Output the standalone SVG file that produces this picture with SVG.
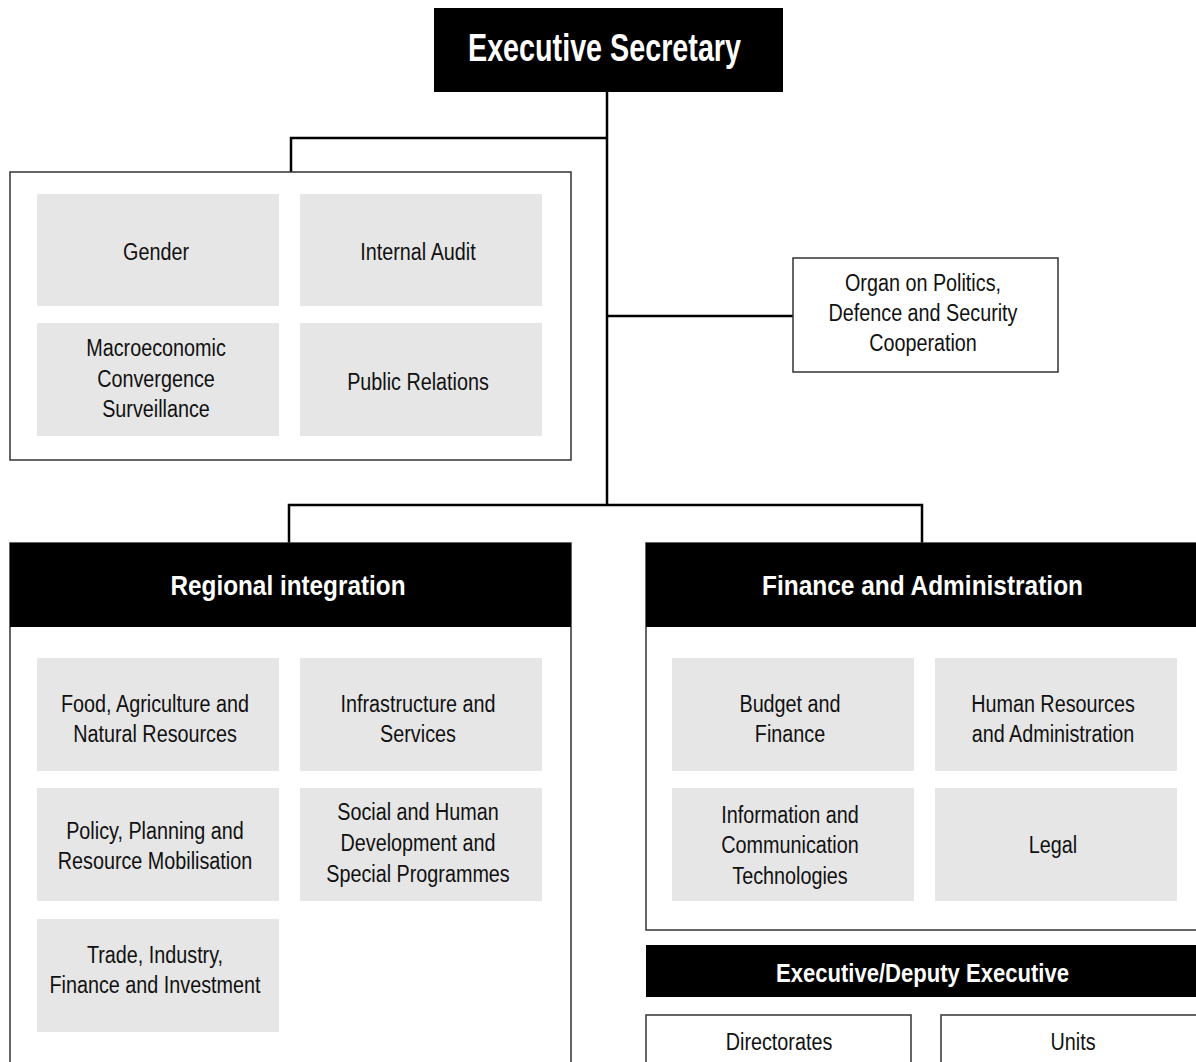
<svg xmlns="http://www.w3.org/2000/svg" width="1196" height="1062" viewBox="0 0 1196 1062">
<style>
.t{font-family:"Liberation Sans",Arial,sans-serif;font-size:23px;fill:#111;text-anchor:middle;}
.h{font-family:"Liberation Sans",Arial,sans-serif;font-weight:bold;fill:#fff;text-anchor:middle;}
.g{fill:#e6e6e6;}
.box{fill:#fff;stroke:#333;stroke-width:1.5;}
.blk{fill:#000;}
.c{fill:none;stroke:#000;stroke-width:2.5;}
</style>
<rect width="1196" height="1062" fill="#fff"/>
<g id="connectors">
<path class="c" d="M607,92 V505"/>
<path class="c" d="M607,138 H291 V172"/>
<path class="c" d="M607,316 H793"/>
<path class="c" d="M289,543 V505 H922 V543"/>
</g>
<g id="executive-secretary">
<rect class="blk" x="434" y="8" width="349" height="84"/>
<text class="h" x="604.5" y="61" font-size="38" textLength="273" lengthAdjust="spacingAndGlyphs">Executive Secretary</text>
</g>
<g id="secretariat-units">
<rect class="box" x="10" y="172" width="561" height="288"/>
<g id="gender"><rect class="g" x="37" y="194" width="242" height="112"/><g transform="translate(156 0) scale(0.86 1)"><text class="t" x="0" y="260">Gender</text></g></g>
<g id="internal-audit"><rect class="g" x="300" y="194" width="242" height="112"/><g transform="translate(418 0) scale(0.86 1)"><text class="t" x="0" y="260">Internal Audit</text></g></g>
<g id="macro"><rect class="g" x="37" y="323" width="242" height="113"/><g transform="translate(156 0) scale(0.86 1)"><text class="t" x="0" y="356">Macroeconomic</text><text class="t" x="0" y="387">Convergence</text><text class="t" x="0" y="417">Surveillance</text></g></g>
<g id="public-relations"><rect class="g" x="300" y="323" width="242" height="113"/><g transform="translate(418 0) scale(0.86 1)"><text class="t" x="0" y="390">Public Relations</text></g></g>
</g>
<g id="organ">
<rect class="box" x="793" y="258" width="265" height="114"/>
<g transform="translate(923 0) scale(0.86 1)">
<text class="t" x="0" y="291">Organ on Politics,</text>
<text class="t" x="0" y="321">Defence and Security</text>
<text class="t" x="0" y="351">Cooperation</text>
</g>
</g>
<g id="regional-integration">
<rect class="box" x="10" y="543" width="561" height="540"/>
<rect class="blk" x="10" y="543" width="561" height="84"/>
<text class="h" x="288" y="595" font-size="28" textLength="235" lengthAdjust="spacingAndGlyphs">Regional integration</text>
<g id="food"><rect class="g" x="37" y="658" width="242" height="113"/><g transform="translate(155 0) scale(0.86 1)"><text class="t" x="0" y="712">Food, Agriculture and</text><text class="t" x="0" y="742">Natural Resources</text></g></g>
<g id="infrastructure"><rect class="g" x="300" y="658" width="242" height="113"/><g transform="translate(418 0) scale(0.86 1)"><text class="t" x="0" y="712">Infrastructure and</text><text class="t" x="0" y="742">Services</text></g></g>
<g id="policy"><rect class="g" x="37" y="788" width="242" height="113"/><g transform="translate(155 0) scale(0.86 1)"><text class="t" x="0" y="839">Policy, Planning and</text><text class="t" x="0" y="869">Resource Mobilisation</text></g></g>
<g id="social"><rect class="g" x="300" y="788" width="242" height="113"/><g transform="translate(418 0) scale(0.86 1)"><text class="t" x="0" y="820">Social and Human</text><text class="t" x="0" y="851">Development and</text><text class="t" x="0" y="882">Special Programmes</text></g></g>
<g id="trade"><rect class="g" x="37" y="919" width="242" height="113"/><g transform="translate(155 0) scale(0.86 1)"><text class="t" x="0" y="963">Trade, Industry,</text><text class="t" x="0" y="993">Finance and Investment</text></g></g>
</g>
<g id="finance-administration">
<rect class="box" x="646" y="543" width="600" height="387"/>
<rect class="blk" x="646" y="543" width="600" height="84"/>
<text class="h" x="922.5" y="595" font-size="28" textLength="321" lengthAdjust="spacingAndGlyphs">Finance and Administration</text>
<g id="budget"><rect class="g" x="672" y="658" width="242" height="113"/><g transform="translate(790 0) scale(0.86 1)"><text class="t" x="0" y="712">Budget and</text><text class="t" x="0" y="742">Finance</text></g></g>
<g id="hr"><rect class="g" x="935" y="658" width="242" height="113"/><g transform="translate(1053 0) scale(0.86 1)"><text class="t" x="0" y="712">Human Resources</text><text class="t" x="0" y="742">and Administration</text></g></g>
<g id="ict"><rect class="g" x="672" y="788" width="242" height="113"/><g transform="translate(790 0) scale(0.86 1)"><text class="t" x="0" y="823">Information and</text><text class="t" x="0" y="853">Communication</text><text class="t" x="0" y="884">Technologies</text></g></g>
<g id="legal"><rect class="g" x="935" y="788" width="242" height="113"/><g transform="translate(1053 0) scale(0.86 1)"><text class="t" x="0" y="853">Legal</text></g></g>
</g>
<g id="legend-executive">
<rect class="blk" x="646" y="945" width="600" height="52"/>
<text class="h" x="922.5" y="982" font-size="26" textLength="293" lengthAdjust="spacingAndGlyphs">Executive/Deputy Executive</text>
</g>
<g id="legend-directorates">
<rect class="box" x="646" y="1015" width="265" height="80"/>
<g transform="translate(779 0) scale(0.86 1)"><text class="t" x="0" y="1050">Directorates</text></g>
</g>
<g id="legend-units">
<rect class="box" x="941" y="1015" width="300" height="80"/>
<g transform="translate(1073 0) scale(0.86 1)"><text class="t" x="0" y="1050">Units</text></g>
</g>
</svg>
